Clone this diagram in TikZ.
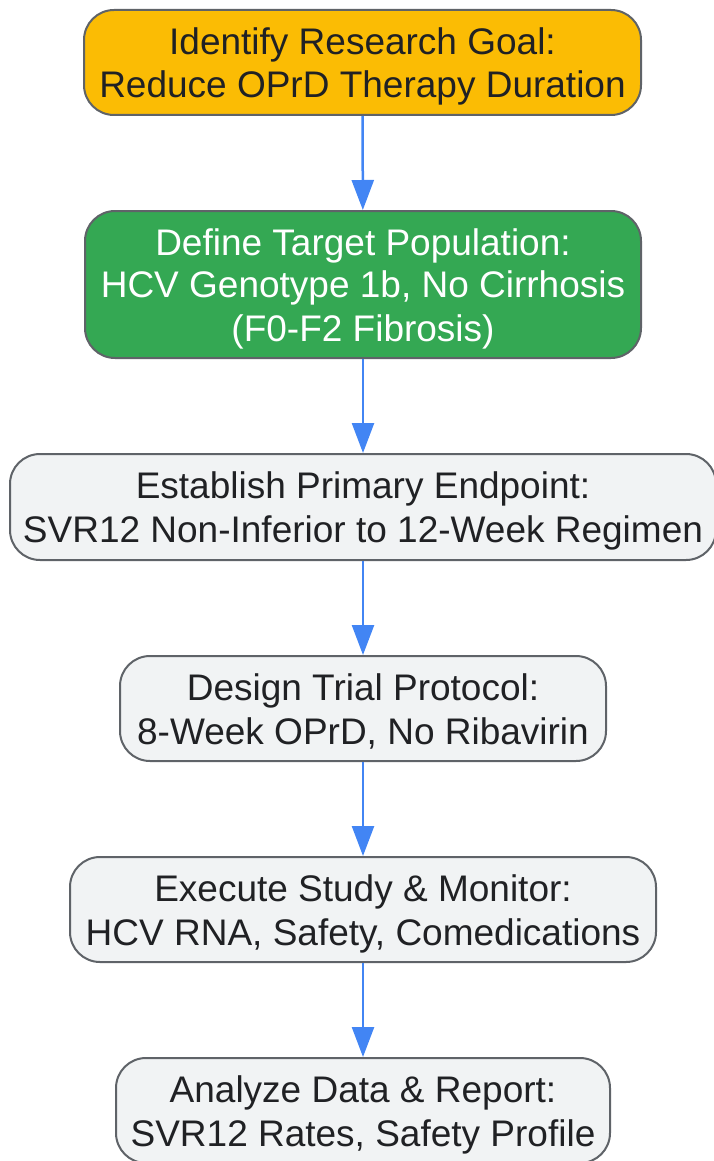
\documentclass[tikz,border=0pt]{standalone}
\usepackage{fontspec}
\setmainfont{Liberation Sans}
\usepackage{tikz}
\usetikzlibrary{arrows.meta}
\definecolor{goalyellow}{HTML}{FBBC04}
\definecolor{popgreen}{HTML}{34A853}
\definecolor{boxgray}{HTML}{F1F3F4}
\definecolor{edgegray}{HTML}{5F6368}
\definecolor{textdark}{HTML}{202124}
\definecolor{flowblue}{HTML}{4285F4}
\newcommand{\ls}{\rule[-7pt]{0pt}{42pt}}

\begin{document}
\begin{tikzpicture}[x=1pt, y=-1pt,
  box/.style={draw=edgegray, line width=2pt, rounded corners=30pt, align=center, inner sep=0pt,
    font=\fontsize{37}{42}\selectfont, text=textdark, fill=boxgray},
  flow/.style={draw=flowblue, line width=2.5pt, -{Triangle[length=30pt, width=22pt]}}]
\useasboundingbox (0,0) rectangle (714,1161);
\node[box, fill=goalyellow, minimum width=557pt, minimum height=105pt] (goal) at (362.5,62.5) {\ls Identify Research Goal:\\Reduce OPrD Therapy Duration\ls};
\node[box, fill=popgreen, text=white, minimum width=556pt, minimum height=147pt] (population) at (363,284.5) {\ls Define Target Population:\\HCV Genotype 1b, No Cirrhosis\\(F0-F2 Fibrosis)\ls};
\node[box, minimum width=706pt, minimum height=106pt] (endpoint) at (363,507) {\ls Establish Primary Endpoint:\\SVR12 Non-Inferior to 12-Week Regimen\ls};
\node[box, minimum width=486pt, minimum height=105pt] (protocol) at (363,708.5) {\ls Design Trial Protocol:\\8-Week OPrD, No Ribavirin\ls};
\node[box, minimum width=586pt, minimum height=105pt] (execute) at (363,909.5) {\ls Execute Study \& Monitor:\\HCV RNA, Safety, Comedications\ls};
\node[box, minimum width=494pt, minimum height=105pt] (analyze) at (363,1110.5) {\ls Analyze Data \& Report:\\SVR12 Rates, Safety Profile\ls};
\draw[flow] (goal) -- (population);
\draw[flow] (population) -- (endpoint);
\draw[flow] (endpoint) -- (protocol);
\draw[flow] (protocol) -- (execute);
\draw[flow] (execute) -- (analyze);
\end{tikzpicture}
\end{document}
